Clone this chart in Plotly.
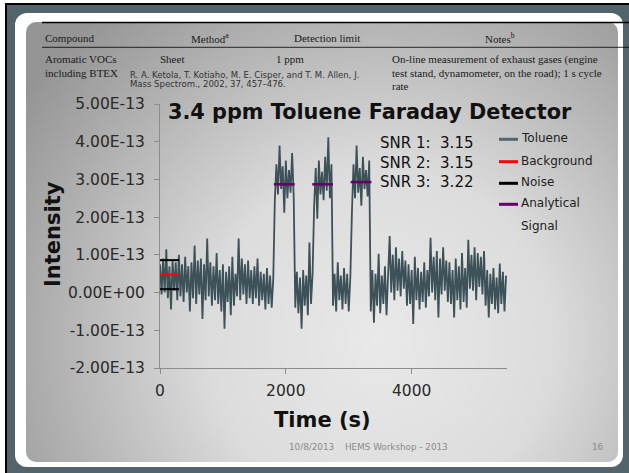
import base64
import plotly.graph_objects as go

# ---------------- data (intensity in units of 1e-13) ----------------
INTENSITY_UNIT = 1e-13
TIME_STEP_S = 25

BASELINE_1_START = 0
BASELINE_1 = [0.75, -0.05, 0.9, 0.0, 1.15, -0.15, 0.7, -0.45, 0.85, 0.05, 0.8, -0.2, 1.0,
              -0.1, 0.75, -0.25, 0.95, 0.0, 0.7, -0.5, 0.8, -0.15, 1.25, -0.3, 0.85,
              -0.05, 0.9, -0.7, 0.75, -0.2, 1.43, -0.1, 0.8, -0.35, 0.7, -0.2, 1.05,
              -0.3, 0.6, -0.5, 0.75, -0.96, 0.55, -0.25, 0.7, -0.6, 0.95, -0.35, 0.5,
              -0.1, 1.43, -0.2, 0.9, -0.05, 0.75, -0.3, 0.85, -0.15,
              0.6, -0.3, 0.7, -0.15, 0.9, -0.35, 0.55, -0.2, 0.5, -0.45, 0.65, -0.3, 0.45, -0.4, 0.35]
PLATEAU_1_START = 1825
PLATEAU_1 = [2.45, 3.4, 2.6, 3.9, 2.75, 3.35, 2.12, 3.5, 2.5, 3.25, 2.65, 3.7, 2.55]
BASELINE_2_START = 2150
BASELINE_2 = [-0.4, 0.55, -0.55, 0.4, -0.96, 0.6, -0.35, 0.45, -0.6, 1.33, -0.3, 0.5]
PLATEAU_2_START = 2450
PLATEAU_2 = [2.3, 3.3, 1.96, 3.5, 2.6, 3.2, 2.45, 3.6, 2.7, 4.12, 2.5, 3.4]
BASELINE_3_START = 2750
BASELINE_3 = [-0.35, 0.5, -0.5, 0.8, -0.2, 0.45, -0.45, 0.65, -0.3, 0.5, -0.5, 0.4]
PLATEAU_3_START = 3050
PLATEAU_3 = [2.1, 3.4, 2.5, 3.9, 2.65, 3.3, 2.3, 3.6, 2.75, 3.25, 2.55, 3.5]
BASELINE_4_START = 3350
BASELINE_4 = [-0.5, 0.6, -0.8, 0.5, -0.35, 1.03, -0.55, 0.45, -0.3, 0.7, -0.6, 0.55,
              1.5, 0.0, 1.0, -0.2, 1.2, 0.05, 0.9, -0.1, 1.1, 0.1, 0.85, -0.35,
              0.75, -0.3, 0.6, -0.83, 0.95, -0.2, 0.65, -0.45, 0.55, -0.25, 0.8, -0.4, 0.6,
              -0.1, 1.45, 0.0, 0.95, -0.2, 1.1, -0.66, 0.9, -0.05, 1.2, 0.05, 0.85, -0.25,
              0.8, -0.3, 0.6, -0.66, 0.9, -0.2, 0.7, -0.45, 1.05, -0.25, 0.65, -0.4,
              1.4, 0.1, 1.0, 0.05, 1.2, -0.2, 1.05, 0.15, 0.95, -0.05, 1.1,
              -0.35, 0.6, -0.66, 0.5, -0.3, 0.65, -0.45, 0.4, -0.55, 0.77, -0.3, 0.55, -0.5, 0.45]

SEGMENTS = [(BASELINE_1_START, BASELINE_1), (PLATEAU_1_START, PLATEAU_1),
            (BASELINE_2_START, BASELINE_2), (PLATEAU_2_START, PLATEAU_2),
            (BASELINE_3_START, BASELINE_3), (PLATEAU_3_START, PLATEAU_3),
            (BASELINE_4_START, BASELINE_4)]

BACKGROUND_TIME = [0, 300]
BACKGROUND_LEVEL = 0.48
NOISE_TIME = [0, 300]
NOISE_LEVELS = [0.86, 0.09]
ANALYTICAL_STARTS = [1810, 2420, 3030]
ANALYTICAL_ENDS = [2140, 2750, 3360]
ANALYTICAL_LEVELS = [2.87, 2.87, 2.93]

SNR_LABELS = ["SNR 1:  3.15", "SNR 2:  3.15", "SNR 3:  3.22"]
LEGEND_NAMES = ["Toluene", "Background", "Noise", "Analytical<br>Signal"]
Y_TICK_VALUES = [-2, -1, 0, 1, 2, 3, 4, 5]
Y_TICK_LABELS = ["-2.00E-13", "-1.00E-13", "0.00E+00", "1.00E-13", "2.00E-13",
                 "3.00E-13", "4.00E-13", "5.00E-13"]
X_TICK_VALUES = [0, 2000, 4000]
X_TICK_LABELS = ["0", "2000", "4000"]

# ---------------- styles ----------------
C_TOL = "#3d5159"
C_BG = "#ff0000"
C_NOISE = "#000000"
C_ANA = "#660066"
W, H = 629, 473
L, R_EDGE, T, B_EDGE = 160, 507, 104, 368


def px(x):
    return (x - L) / (R_EDGE - L)


def py(y):
    return (B_EDGE - y) / (B_EDGE - T)


tol_t, tol_v = [], []
for start, vals in SEGMENTS:
    for i, v in enumerate(vals):
        tol_t.append(start + i * TIME_STEP_S)
        tol_v.append(v * INTENSITY_UNIT)

fig = go.Figure()
fig.add_trace(go.Scatter(x=tol_t, y=tol_v, mode="lines", line=dict(color=C_TOL, width=1.8),
                         name="Toluene", showlegend=False, hoverinfo="skip"))
fig.add_trace(go.Scatter(x=BACKGROUND_TIME, y=[BACKGROUND_LEVEL * INTENSITY_UNIT] * 2,
                         mode="lines", line=dict(color=C_BG, width=2), showlegend=False))
for lvl in NOISE_LEVELS:
    fig.add_trace(go.Scatter(x=NOISE_TIME, y=[lvl * INTENSITY_UNIT] * 2, mode="lines",
                             line=dict(color=C_NOISE, width=2), showlegend=False))
for s, e, lvl in zip(ANALYTICAL_STARTS, ANALYTICAL_ENDS, ANALYTICAL_LEVELS):
    fig.add_trace(go.Scatter(x=[s, e], y=[lvl * INTENSITY_UNIT] * 2, mode="lines",
                             line=dict(color=C_ANA, width=2.5), showlegend=False))

# ---------------- slide background (shapes only, as an SVG image) ----------------
svg = f'''<svg xmlns="http://www.w3.org/2000/svg" width="{W}" height="{H}" viewBox="0 0 {W} {H}">
<defs><radialGradient id="g" cx="380" cy="340" r="430" gradientUnits="userSpaceOnUse">
<stop offset="0" stop-color="#e9e9e9"/><stop offset="0.4" stop-color="#dcdcdc"/>
<stop offset="1" stop-color="#959595"/></radialGradient></defs>
<rect width="{W}" height="{H}" fill="#ffffff"/>
<rect x="5" y="3" width="624" height="470" fill="#000000"/>
<rect x="7" y="5" width="622" height="468" fill="#52636a"/>
<rect x="15" y="13" width="608" height="454" rx="12" fill="#ffffff"/>
<rect x="26" y="22" width="592" height="440" rx="10" fill="url(#g)"/>
<line x1="42" y1="22.5" x2="629" y2="22.5" stroke="#000000" stroke-width="1.6"/>
<line x1="42" y1="47.3" x2="629" y2="47.3" stroke="#000000" stroke-width="0.8"/>
</svg>'''
src = "data:image/svg+xml;base64," + base64.b64encode(svg.encode()).decode()
fig.add_layout_image(dict(source=src, xref="paper", yref="paper", x=px(0), y=py(0),
                          sizex=W / (R_EDGE - L), sizey=H / (B_EDGE - T),
                          xanchor="left", yanchor="top", sizing="stretch", layer="below"))

ann = []


def text(x, y, s, size, family="DejaVu Sans", color="#1a1a1a", anchor="left", **kw):
    ann.append(dict(x=px(x), y=py(y), xref="paper", yref="paper", text=s, showarrow=False,
                    xanchor=anchor, yanchor="middle",
                    font=dict(size=size, family=family, color=color), **kw))


SERIF = "Liberation Serif"
# table snippet
text(42.7, 38, "Compound", 11, SERIF)
text(189, 38, "Method<sup>a</sup>", 11, SERIF)
text(292, 38, "Detection limit", 11, SERIF)
text(483, 38, "Notes<sup>b</sup>", 11, SERIF)
text(42.7, 59, "Aromatic VOCs", 11, SERIF)
text(43, 73, "including BTEX", 11, SERIF)
text(158, 59, "Sheet", 11, SERIF)
text(274, 59, "1 ppm", 11, SERIF)
text(390, 59, "On-line measurement of exhaust gases (engine", 11, SERIF)
text(390, 73, "test stand, dynamometer, on the road); 1 s cycle", 11, SERIF)
text(390, 86, "rate", 11, SERIF)
text(128, 75, "R. A. Ketola, T. Kotiaho, M. E. Cisper, and T. M. Allen, J.", 8.5, color="#333333")
text(128, 84.5, "Mass Spectrom., 2002, 37, 457–476.", 8.5, color="#333333")

# chart title
text(370, 112, "<b>3.4 ppm Toluene Faraday Detector</b>", 20.8, color="#111111", anchor="center")
# SNR
for i, s in enumerate(SNR_LABELS):
    text(378, 143 + i * 19.5, s, 15, color="#111111")
# axis titles
text(322, 420, "<b>Time (s)</b>", 21, color="#111111", anchor="center")
ann.append(dict(x=px(53), y=py(234), xref="paper", yref="paper", text="<b>Intensity</b>",
                showarrow=False, textangle=-90, xanchor="center", yanchor="middle",
                font=dict(size=21, family="DejaVu Sans", color="#111111")))
# legend (drawn manually)
legend_y = [138.3, 160.7, 182.3, 203.3]
legend_col = ["#55666e", C_BG, C_NOISE, C_ANA]
shapes = []
for name, yy, col in zip(LEGEND_NAMES, legend_y, legend_col):
    shapes.append(dict(type="line", xref="paper", yref="paper", x0=px(499), x1=px(518),
                       y0=py(yy + 1), y1=py(yy + 1), line=dict(color=col, width=3)))
    if "<br>" in name:
        a, b = name.split("<br>")
        text(519, yy, a, 12, color="#222222")
        text(519, yy + 22.4, b, 12, color="#222222")
    else:
        text(519, yy, name, 12, color="#222222")
# footer
text(287, 447, "10/8/2013", 8.8, color="#8a8a8a")
text(343, 447, "HEMS Workshop - 2013", 8.8, color="#8a8a8a")
text(598, 447, "16", 8.8, color="#8a8a8a", anchor="center")

AX = "#8c8c8c"
fig.update_layout(
    width=W, height=H, margin=dict(l=L, r=W - R_EDGE, t=T, b=H - B_EDGE, pad=0),
    paper_bgcolor="#ffffff", plot_bgcolor="rgba(0,0,0,0)",
    showlegend=False, annotations=ann, shapes=shapes,
    font=dict(family="DejaVu Sans"),
    xaxis=dict(range=[0, 5515], tickvals=X_TICK_VALUES, ticktext=X_TICK_LABELS,
               ticks="outside", ticklen=5, tickcolor=AX, showline=True, linecolor=AX,
               showgrid=False, zeroline=False, ticklabelstandoff=3,
               tickfont=dict(size=15.5, color="#2a2a2a", family="DejaVu Sans")),
    yaxis=dict(range=[-2 * INTENSITY_UNIT, 5 * INTENSITY_UNIT],
               tickvals=[v * INTENSITY_UNIT for v in Y_TICK_VALUES], ticktext=Y_TICK_LABELS,
               ticks="outside", ticklen=5, tickcolor=AX, showline=True, linecolor=AX,
               showgrid=False, zeroline=False, ticklabelstandoff=6,
               tickfont=dict(size=15.5, color="#2a2a2a", family="DejaVu Sans")),
)
fig.write_html("out.html", config={"displayModeBar": False},
               post_script="document.body.style.margin='0';"
                           "document.body.style.overflow='hidden';")
